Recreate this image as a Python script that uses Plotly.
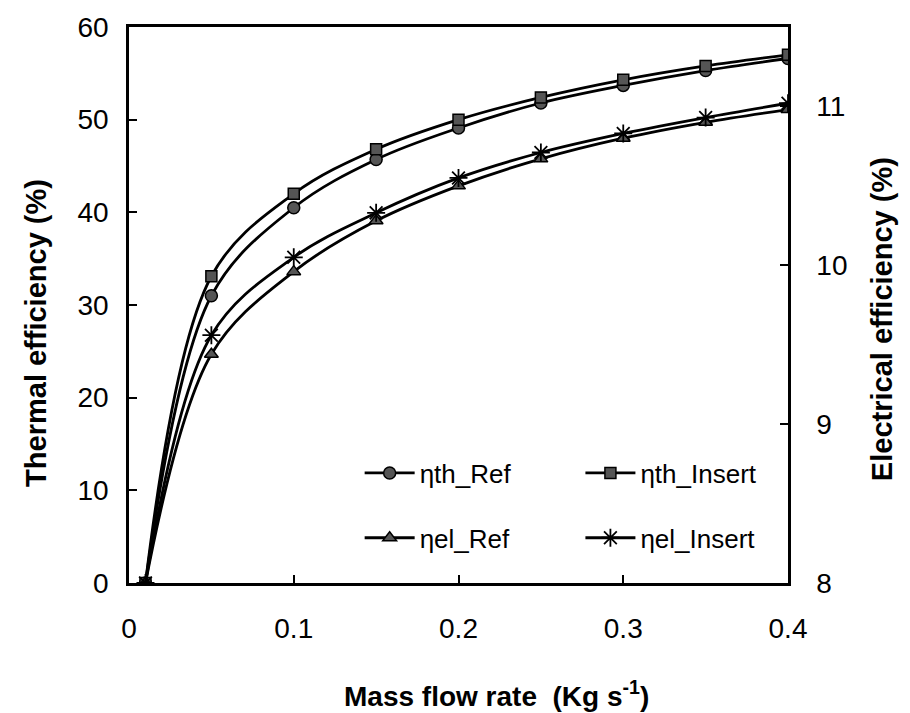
import plotly.graph_objects as go

mass_flow = [0.01, 0.05, 0.10, 0.15, 0.20, 0.25, 0.30, 0.35, 0.40]
th_ref = [0.0, 31.0, 40.5, 45.7, 49.1, 51.8, 53.7, 55.3, 56.6]
th_insert = [0.0, 33.1, 42.0, 46.8, 50.0, 52.4, 54.3, 55.8, 57.0]
el_ref = [8.0, 9.44, 9.96, 10.28, 10.50, 10.67, 10.80, 10.90, 10.98]
el_insert = [8.0, 9.56, 10.05, 10.33, 10.55, 10.71, 10.83, 10.93, 11.02]

x_ticks = [0, 0.1, 0.2, 0.3, 0.4]
y_ticks = [0, 10, 20, 30, 40, 50, 60]
y2_ticks = [8, 9, 10, 11]

FONT = "Liberation Sans, Arial, sans-serif"
line_style = dict(color="black", width=2.8, shape="spline", smoothing=1.0)
mk_line = dict(color="black", width=1.5)

fig = go.Figure()
fig.add_trace(go.Scatter(x=mass_flow, y=th_ref, name="ηth_Ref", mode="lines+markers",
                         line=line_style, legend="legend", legendgroup="a",
                         marker=dict(symbol="circle", size=12, color="#555", line=mk_line)))
fig.add_trace(go.Scatter(x=mass_flow, y=th_insert, name="ηth_Insert", mode="lines+markers",
                         line=line_style, legend="legend2", legendgroup="b",
                         marker=dict(symbol="square", size=11, color="#555", line=mk_line)))
fig.add_trace(go.Scatter(x=mass_flow, y=el_ref, name="ηel_Ref", mode="lines+markers",
                         line=line_style, yaxis="y2", legend="legend", legendgroup="c",
                         marker=dict(symbol="triangle-up", size=12, color="#555", line=mk_line)))
fig.add_trace(go.Scatter(x=mass_flow, y=el_insert, name="ηel_Insert", mode="lines+markers",
                         line=line_style, yaxis="y2", legend="legend2", legendgroup="d",
                         marker=dict(symbol="asterisk-open", size=15, color="black",
                                     line=dict(color="black", width=1.8))))

axis_common = dict(showgrid=False, zeroline=False, showline=True, linecolor="black",
                   linewidth=2.5, ticks="inside", ticklen=8, tickwidth=2, tickcolor="black",
                   tickfont=dict(family=FONT, size=28, color="black"))

legend_font = dict(family=FONT, size=26, color="black")

fig.update_layout(
    width=910, height=713,
    margin=dict(l=129, r=122, t=25, b=130),
    paper_bgcolor="white", plot_bgcolor="white",
    font=dict(family=FONT, color="black"),
    xaxis=dict(range=[0, 0.4], tickvals=x_ticks, ticktext=["0", "0.1", "0.2", "0.3", "0.4"],
               mirror=True, ticklabelstandoff=19, **axis_common),
    yaxis=dict(range=[0, 60], tickvals=y_ticks, ticklabelstandoff=12, **axis_common),
    yaxis2=dict(range=[8, 11.5], tickvals=y2_ticks, overlaying="y", side="right",
                ticklabelstandoff=20, **axis_common),
    legend=dict(x=0.35, y=0.24, xanchor="left", yanchor="top", bgcolor="rgba(0,0,0,0)",
                font=legend_font, tracegroupgap=28, itemwidth=50),
    legend2=dict(x=0.685, y=0.24, xanchor="left", yanchor="top", bgcolor="rgba(0,0,0,0)",
                 font=legend_font, tracegroupgap=28, itemwidth=50),
    annotations=[
        dict(text="<b>Mass flow rate  (Kg s<sup>-1</sup>)</b>", xref="paper", yref="paper",
             x=0.558, y=-0.20, xanchor="center", yanchor="middle", showarrow=False,
             font=dict(family=FONT, size=28, color="black")),
        dict(text="<b>Thermal efficiency (%)</b>", xref="paper", yref="paper",
             x=-0.141, y=0.45, xanchor="center", yanchor="middle", showarrow=False,
             textangle=-90, font=dict(family=FONT, size=29, color="black")),
        dict(text="<b>Electrical efficiency (%)</b>", xref="paper", yref="paper",
             x=1.143, y=0.475, xanchor="center", yanchor="middle", showarrow=False,
             textangle=-90, font=dict(family=FONT, size=29, color="black")),
    ],
)

fig.write_html("out.html")
